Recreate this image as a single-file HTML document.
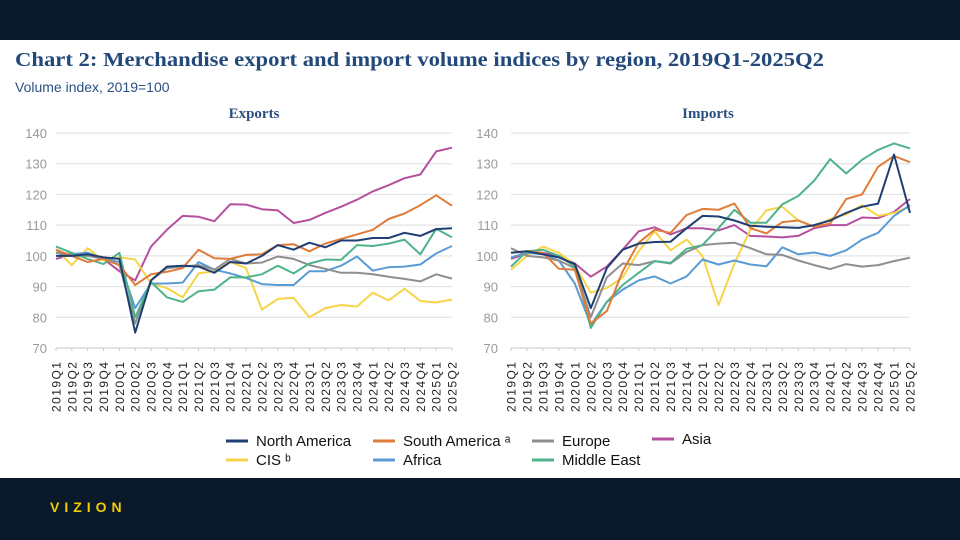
<!DOCTYPE html>
<html><head><meta charset="utf-8"><style>
html,body{margin:0;padding:0;background:#fff;}
svg{display:block;font-family:"Liberation Sans",sans-serif;}
</style></head><body>
<svg id="c" width="960" height="540" viewBox="0 0 960 540">
<rect x="0" y="0" width="960" height="40" fill="#0b1a2b"/>
<rect x="0" y="478" width="960" height="62" fill="#0b1a2b"/>
<text x="50" y="512" fill="#f2cd00" font-size="14" font-weight="bold" letter-spacing="5">VIZION</text>
<text x="15" y="66" fill="#23497a" font-family="Liberation Serif,serif" font-size="20" font-weight="bold" textLength="809" lengthAdjust="spacingAndGlyphs">Chart 2: Merchandise export and import volume indices by region, 2019Q1-2025Q2</text>
<text x="15" y="92" fill="#2a5082" font-size="14">Volume index, 2019=100</text>
<text x="254" y="118" fill="#2a5082" text-anchor="middle" font-family="Liberation Serif,serif" font-size="15" font-weight="bold">Exports</text>
<text x="708" y="118" fill="#2a5082" text-anchor="middle" font-family="Liberation Serif,serif" font-size="15" font-weight="bold">Imports</text>
<g id="legend"></g>
</svg>
<script>
const NS="http://www.w3.org/2000/svg";
const svg=document.getElementById('c');
const quarters=["2019Q1","2019Q2","2019Q3","2019Q4","2020Q1","2020Q2","2020Q3","2020Q4","2021Q1","2021Q2","2021Q3","2021Q4","2022Q1","2022Q2","2022Q3","2022Q4","2023Q1","2023Q2","2023Q3","2023Q4","2024Q1","2024Q2","2024Q3","2024Q4","2025Q1","2025Q2"];
const yTicks=[70,80,90,100,110,120,130,140];
const seriesNames=["North America","South America","Europe","Asia","CIS","Africa","Middle East"];
const seriesColors=["#1f3f73","#e07b39","#8f8f8f","#b5509f","#f5d547","#5b9bd5","#4fb38a"];
// Exports
const expNorthAmerica=[100,100,100.5,99.5,99,75,92,96.5,96.8,96.5,94.5,98,97.5,100,103.5,102,104.3,102.8,105,105,105.8,105.8,107.5,106.5,108.7,109];
const expSouthAmerica=[102,100,98,99,97,90.5,94,94.8,96,102,99.2,99,100.3,100.5,103.5,103.8,101.5,104,105.5,107,108.5,112,113.8,116.5,119.7,116.3];
const expEurope=[101,100,100,99,97,78,92,96,96.5,97,95.5,99,97.5,97.8,99.8,99,97,95.8,94.5,94.5,94,93.2,92.5,91.7,94,92.6];
const expAsia=[99,100.5,101,99,95,92,103,108.5,113,112.7,111.3,116.8,116.7,115.2,114.8,110.7,111.7,114,116,118.3,121,123,125.3,126.5,134,135.2];
const expCIS=[102,97,102.5,98.5,99.5,98.8,91,89.5,86.5,94.3,95,98,96,82.5,86,86.3,80,83,84,83.5,88,85.5,89.3,85.3,84.8,85.8];
const expAfrica=[101,100.5,101,99,98,83,91,91,91.3,98,95.5,94.3,92.8,90.8,90.5,90.5,95,95,96.8,99.8,95.2,96.3,96.5,97.2,100.8,103.2];
const expMiddleEast=[103,101,99,97.3,101,80,91.5,86.5,85,88.5,89,93,93,94,96.8,94.3,97.5,98.8,98.7,103.5,103.2,104,105.3,100.5,108.8,106];
// Imports
const impNorthAmerica=[101,101.5,100.5,99.5,97.3,83,96,102,104,104.5,104.6,109,113,112.8,111.5,109.8,109.5,109.3,109.1,110,111.5,114,116,117,133,114];
const impSouthAmerica=[101,101.5,101,95.8,95.5,78,82,95,104.3,108.5,107.5,113.3,115.3,115,117,109,107.3,111,111.5,109.5,110.5,118.5,120,129,132.5,130.5];
const impEurope=[102.5,100,99.5,98.5,96,80,93,97.5,97,98.3,97.5,101.3,103.5,104,104.3,102.5,100.5,100.3,98.5,97,95.7,97.3,96.5,97,98.3,99.4];
const impAsia=[99,100.8,101,100,97.5,93.2,96.5,102,108,109.3,107,109,109,108.3,110,106.5,106.3,106,106.5,109,110,110,112.5,112.3,114.3,118.5];
const impCIS=[95.5,100,103,101,97,88,89.5,93,101.5,108,101.8,105.3,100,84,97.5,108.5,114.8,116,111.5,109.5,112,113.5,116.5,113,114,116];
const impAfrica=[99.5,101,100.5,98.5,91,77.5,85,89,92,93.3,91,93.3,98.8,97.2,98.5,97.2,96.6,102.8,100.5,101.1,100,101.8,105.3,107.5,113,116.5];
const impMiddleEast=[96.5,101.5,102,100,96.5,76.5,85,90.5,94.5,98.3,97.7,102.3,103.5,109,115,110.8,110.8,116.8,119.5,124.5,131.5,126.8,131.3,134.5,136.6,135];

const exportsSeries=[expNorthAmerica,expSouthAmerica,expEurope,expAsia,expCIS,expAfrica,expMiddleEast];
const importsSeries=[impNorthAmerica,impSouthAmerica,impEurope,impAsia,impCIS,impAfrica,impMiddleEast];
const drawOrder=[3,4,5,2,6,1,0];

function mk(tag,attrs,parent){const e=document.createElementNS(NS,tag);for(const k in attrs)e.setAttribute(k,attrs[k]);(parent||svg).appendChild(e);return e;}

function panel(name,x0,x1,labelRight,series){
  const y0=348,y1=133;
  const g=mk('g',{});
  
  
  const xs=i=>x0+(x1-x0)*i/(quarters.length-1);
  const ys=v=>y0-(v-70)/(140-70)*(y0-y1);
  yTicks.forEach(t=>{
    const ln=mk('line',{x1:x0,x2:x1,y1:ys(t),y2:ys(t),stroke:t===70?'#c8c8c8':'#dedede','stroke-width':1},g);
    
    
    const tx=mk('text',{x:labelRight,y:ys(t)+5,'text-anchor':'end','font-size':13,fill:'#9a9a9a'},g);
    tx.textContent=t;
    
    
  });
  quarters.forEach((q,i)=>{
    const tk=mk('line',{x1:xs(i),x2:xs(i),y1:y0,y2:y0+3,stroke:'#c8c8c8'},g);
    
    
    const tx=mk('text',{x:0,y:0,'text-anchor':'end','font-size':12,fill:'#222',textLength:50,lengthAdjust:'spacing',transform:`translate(${xs(i)+4.5},${y0+14}) rotate(-90)`},g);
    tx.textContent=q;
    
    
  });
  drawOrder.forEach(si=>{
    const d=series[si].map((v,i)=>(i?'L':'M')+xs(i).toFixed(1)+','+ys(v).toFixed(1)).join('');
    const p=mk('path',{d:d,fill:'none',stroke:seriesColors[si],'stroke-width':2,'stroke-linejoin':'round'},g);
    
    
  });
}
panel('exports',56,452,47,exportsSeries);
panel('imports',511,910,498,importsSeries);

const lg=document.getElementById('legend');
const legendItems=[[0,226,441,"North America"],[1,373,441,"South America ᵃ"],[2,532,441,"Europe"],[3,652,439,"Asia"],[4,226,460,"CIS ᵇ"],[5,373,460,"Africa"],[6,532,460,"Middle East"]];
legendItems.forEach(it=>{
  const [si,x,y,lab]=it;
  const sw=mk('line',{x1:x,x2:x+22,y1:y,y2:y,stroke:seriesColors[si],'stroke-width':3},lg);
  
  
  const t=mk('text',{x:x+30,y:y+5,'font-size':15,fill:'#111'},lg);
  t.textContent=lab;
  
  
});
</script>
</body></html>
